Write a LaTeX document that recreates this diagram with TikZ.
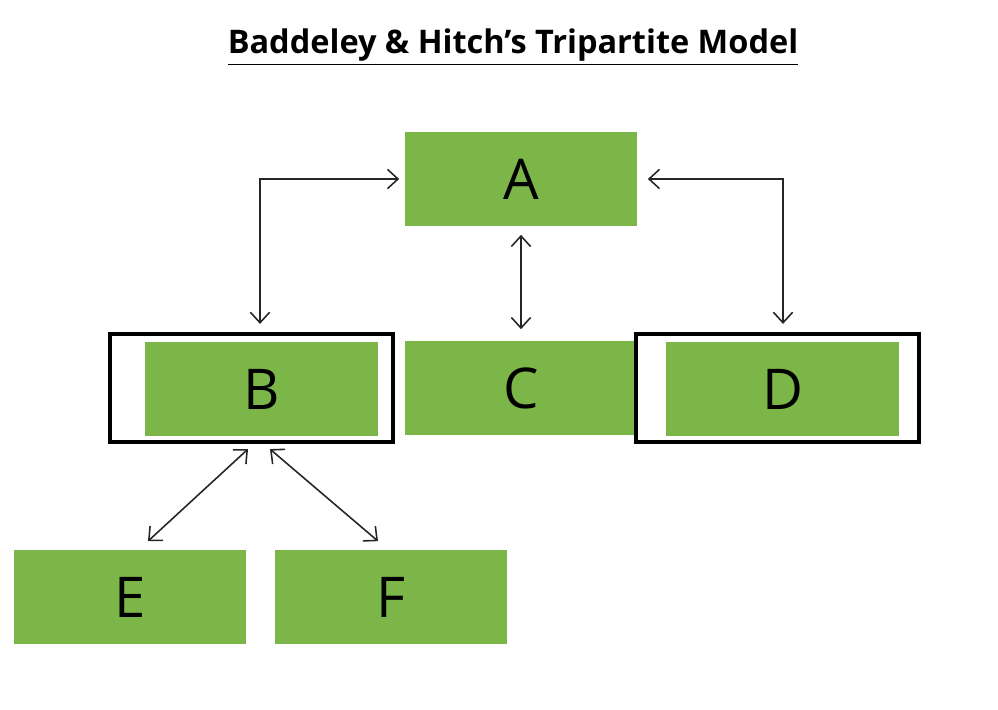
\documentclass[tikz,border=0pt]{standalone}
\usepackage{fontspec}
\setmainfont{Open Sans}
\usetikzlibrary{arrows.meta,positioning}
\definecolor{boxgreen}{RGB}{124,181,72}
\tikzset{
  box/.style={fill=boxgreen, minimum width=4.66cm, minimum height=1.9cm, inner sep=0pt,
    font=\fontsize{32}{32}\selectfont},
  frame/.style={draw=black, line width=2.4pt, fill=white, minimum width=5.66cm, minimum height=2.16cm, inner sep=0pt},
  link/.style={{Straight Barb[length=6pt,width=11pt]}-{Straight Barb[length=6pt,width=11pt]}, line width=0.9pt, draw=black!85}
}
\begin{document}
\begin{tikzpicture}[x=0.02cm,y=-0.02cm]
\useasboundingbox (0,0) rectangle (998,710);
\node[font=\bfseries\fontsize{18.5}{18.5}\selectfont] (title) at (513,47) {\underline{Baddeley \& Hitch’s Tripartite Model}};
% boxes
\node[box] (A) at (521,179) {A};
\node[frame] (Bf) at (251.5,388) {};
\node[box] (B) at (261.5,389) {B};
\node[box] (C) at (521,388) {C};
\node[frame] (Df) at (777.5,388) {};
\node[box] (D) at (782.5,389) {D};
\node[box] (E) at (130,597) {E};
\node[box] (F) at (391,597) {F};
% connectors
\coordinate (ab) at (260,179);
\coordinate (ad) at (783,179);
\draw[link] ([xshift=-0.1cm]A.west) -- (ab) -- ([yshift=0.16cm]ab |- Bf.north);
\draw[link] ([xshift=0.2cm]A.east) -- (ad) -- ([yshift=0.16cm]ad |- Df.north);
\draw[link] ([yshift=-0.16cm]A.south) -- ([yshift=0.22cm]C.north);
\draw[link] ([xshift=-0.07cm,yshift=-0.1cm]Bf.south) -- ([xshift=0.36cm,yshift=0.16cm]E.north);
\draw[link] ([xshift=0.37cm,yshift=-0.1cm]Bf.south) -- ([xshift=-0.26cm,yshift=0.16cm]F.north);
\end{tikzpicture}
\end{document}
